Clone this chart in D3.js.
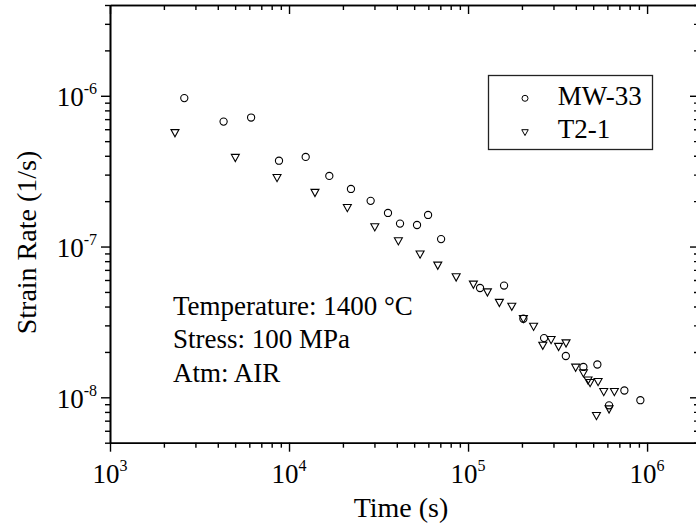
<!DOCTYPE html>
<html>
<head>
<meta charset="utf-8">
<script src="https://cdn.jsdelivr.net/npm/d3@7"></script>
<style>
  body { margin: 0; background: #fff; }
</style>
</head>
<body>
<div id="chart"></div>
<script>
// MW-33 series (circles): time (s), strain rate (1/s)
const mwTime = [2600, 4310, 6140, 8790, 12390, 16790, 22180, 28570, 35710, 41690, 51880, 59800, 70700,
  116700, 158900, 203700, 265900, 351700, 440900, 527600, 613200, 746800, 917300]
const mwRate = [9.65e-7, 6.74e-7, 7.17e-7, 3.71e-7, 3.93e-7, 2.94e-7, 2.41e-7, 2.01e-7, 1.67e-7, 1.42e-7, 1.39e-7, 1.62e-7, 1.12e-7,
  5.31e-8, 5.51e-8, 3.32e-8, 2.47e-8, 1.88e-8, 1.59e-8, 1.65e-8, 8.85e-9, 1.11e-8, 9.57e-9]

// T2-1 series (down triangles)
const t2Time = [2306, 5012, 8570, 13960, 21170, 30140, 40810, 53960, 67740, 85800, 107100, 128300, 149600, 175500,
  203700, 232300, 291000, 261500, 320400, 352600, 399000, 440900, 467900, 480500, 532600, 572800, 656600, 613200, 521500]
const t2Rate = [5.68e-7, 3.89e-7, 2.86e-7, 2.28e-7, 1.81e-7, 1.35e-7, 1.09e-7, 8.9e-8, 7.51e-8, 6.28e-8, 5.62e-8, 4.99e-8, 4.25e-8, 4.01e-8,
  3.32e-8, 2.95e-8, 2.41e-8, 2.21e-8, 2.17e-8, 2.29e-8, 1.58e-8, 1.45e-8, 1.3e-8, 1.25e-8, 1.27e-8, 1.09e-8, 1.09e-8, 8.36e-9, 7.55e-9]

const seriesNames = ['MW-33', 'T2-1']
const notes = ['Temperature: 1400 °C', 'Stress: 100 MPa', 'Atm: AIR']
const xMajor = [1e3, 1e4, 1e5, 1e6]
const yMajor = [1e-8, 1e-7, 1e-6]

const serif = "'Liberation Serif', 'Times New Roman', Times, 'DejaVu Serif', serif"

const svgWidth = 696
const svgHeight = 529

const margin = { left: 110, top: 5 }
const plotW = 589
const plotH = 437.7

const svg = d3.select('#chart')
    .append('svg')
    .attr('width', svgWidth)
    .attr('height', svgHeight)
    .attr('font-family', serif)
    .style('font-family', serif)

const g = svg.append('g')
    .attr('transform', `translate(${margin.left},${margin.top})`)

////////////////////////////////////
//////////////scales////////////////
////////////////////////////////////

const xScale = d3.scaleLog()
    .domain([1e3, 1.95e6])
    .range([0, plotW])

const yScale = d3.scaleLog()
    .domain([5e-9, 4e-6])
    .range([plotH, 0])

// minor ticks: 2..9 of every decade inside the domain
function minorTicks(scale) {
    const [a, b] = scale.domain().slice().sort((p, q) => p - q)
    const out = []
    for (let e = Math.floor(Math.log10(a)); e <= Math.ceil(Math.log10(b)); e++) {
        for (let m = 2; m <= 9; m++) {
            const v = m * Math.pow(10, e)
            if (v >= a * 0.999 && v <= b * 1.001) out.push(v)
        }
    }
    return out
}

const majorLen = 9
const minorLen = 5

function styleAxis(sel) {
    sel.select('.domain').attr('stroke', '#000').attr('stroke-width', 1.6)
    sel.selectAll('.tick line').attr('stroke', '#000').attr('stroke-width', 1.4)
    sel.selectAll('text').remove()
}

// bottom
g.append('g').attr('transform', `translate(0,${plotH})`)
    .call(d3.axisBottom(xScale).tickValues(minorTicks(xScale)).tickSizeInner(minorLen).tickSizeOuter(0))
    .call(styleAxis)
g.append('g').attr('transform', `translate(0,${plotH})`)
    .call(d3.axisBottom(xScale).tickValues(xMajor).tickSizeInner(majorLen).tickSizeOuter(0))
    .call(styleAxis)

// top (ticks inward)
g.append('g')
    .call(d3.axisTop(xScale).tickValues(minorTicks(xScale)).tickSizeInner(-minorLen).tickSizeOuter(0))
    .call(styleAxis)
g.append('g')
    .call(d3.axisTop(xScale).tickValues(xMajor).tickSizeInner(-majorLen).tickSizeOuter(0))
    .call(styleAxis)

// left
g.append('g')
    .call(d3.axisLeft(yScale).tickValues(minorTicks(yScale)).tickSizeInner(minorLen).tickSizeOuter(0))
    .call(styleAxis)
g.append('g')
    .call(d3.axisLeft(yScale).tickValues(yMajor).tickSizeInner(majorLen).tickSizeOuter(0))
    .call(styleAxis)

// right (ticks inward)
g.append('g').attr('transform', `translate(${plotW},0)`)
    .call(d3.axisRight(yScale).tickValues(minorTicks(yScale)).tickSizeInner(-minorLen).tickSizeOuter(0))
    .call(styleAxis)
g.append('g').attr('transform', `translate(${plotW},0)`)
    .call(d3.axisRight(yScale).tickValues(yMajor).tickSizeInner(-majorLen).tickSizeOuter(0))
    .call(styleAxis)

// tick labels as 10^n
function powLabel(sel, v) {
    const e = Math.round(Math.log10(v))
    sel.append('tspan').attr('font-size', 27).text('10')
    sel.append('tspan').attr('font-size', 16).attr('dy', -12).text(e < 0 ? '-' + (-e) : e)
}

xMajor.forEach(v => {
    g.append('text')
        .attr('font-family', serif)
        .attr('x', xScale(v))
        .attr('y', plotH + 40.6)
        .attr('text-anchor', 'middle')
        .call(powLabel, v)
})

yMajor.forEach(v => {
    g.append('text')
        .attr('font-family', serif)
        .attr('x', -13)
        .attr('y', yScale(v) + 10.7)
        .attr('text-anchor', 'end')
        .call(powLabel, v)
})

// axis titles
g.append('text')
    .attr('font-family', serif)
    .attr('x', 291)
    .attr('y', 512)
    .attr('text-anchor', 'middle')
    .attr('font-size', 28)
    .text('Time (s)')

g.append('text')
    .attr('font-family', serif)
    .attr('transform', `translate(${35.5 - margin.left},${242.5 - margin.top}) rotate(-90)`)
    .attr('text-anchor', 'middle')
    .attr('font-size', 28)
    .text('Strain Rate (1/s)')

////////////////////////////////////
//////////////marks/////////////////
////////////////////////////////////

const triPath = (w) => `M${-w / 2},${-w * 0.4}L${w / 2},${-w * 0.4}L0,${w * 0.5}Z`

const mwData = mwTime.map((t, i) => ({ t: t, r: mwRate[i] }))
const t2Data = t2Time.map((t, i) => ({ t: t, r: t2Rate[i] }))

g.selectAll('.tri')
    .data(t2Data)
    .join('path')
    .attr('class', 'tri')
    .attr('d', triPath(8))
    .attr('transform', d => `translate(${xScale(d.t)},${yScale(d.r)})`)
    .attr('fill', 'none')
    .attr('stroke', '#000')
    .attr('stroke-width', 1.1)

g.selectAll('.circ')
    .data(mwData)
    .join('circle')
    .attr('class', 'circ')
    .attr('cx', d => xScale(d.t))
    .attr('cy', d => yScale(d.r))
    .attr('r', 3.6)
    .attr('fill', 'none')
    .attr('stroke', '#000')
    .attr('stroke-width', 1.1)

// annotations
notes.forEach((n, i) => {
    g.append('text')
        .attr('font-family', serif)
        .attr('x', 173 - margin.left)
        .attr('y', 315 - margin.top + i * 33.4)
        .attr('font-size', 27)
        .text(n)
})

////////////////////////////////////
//////////////legend////////////////
////////////////////////////////////

const legend = svg.append('g').attr('transform', 'translate(488,75)')

legend.append('rect')
    .attr('x', 0.5)
    .attr('y', 0.5)
    .attr('width', 164)
    .attr('height', 74)
    .attr('fill', '#fff')
    .attr('stroke', '#222')
    .attr('stroke-width', 1.3)

legend.append('circle')
    .attr('cx', 37)
    .attr('cy', 23.3)
    .attr('r', 3)
    .attr('fill', 'none')
    .attr('stroke', '#000')

legend.append('path')
    .attr('d', triPath(6.5))
    .attr('transform', 'translate(37,57.3)')
    .attr('fill', 'none')
    .attr('stroke', '#000')

seriesNames.forEach((s, i) => {
    legend.append('text')
        .attr('font-family', serif)
        .attr('x', 69.7)
        .attr('y', 30 + i * 33.3)
        .attr('font-size', 27)
        .text(s)
})
</script>
</body>
</html>
